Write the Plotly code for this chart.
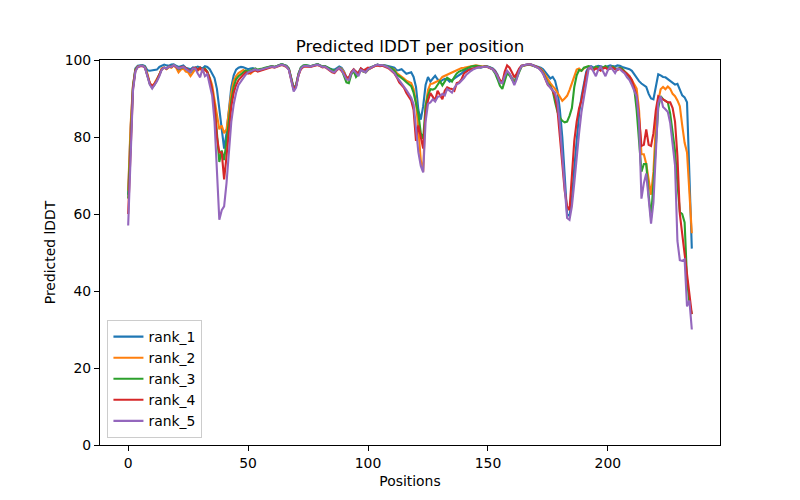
import plotly.graph_objects as go

positions = list(range(236))

rank_1 = [
    65, 82, 93, 97.8, 98.5, 98.7, 98.7, 98.4, 97.3, 97.2,
    97.3, 97.3, 97.5, 98.2, 98.5, 98.8, 98.6, 98.5, 98.8, 98.9,
    98.5, 98.2, 98.4, 98.6, 98.0, 97.8, 97.6, 98.1, 98.0, 98.3,
    98.0, 97.8, 98.4, 98.2, 97.6, 96.5, 95.3, 92.5, 87.5, 82,
    77, 81, 88, 93, 96, 97.5, 98, 98.2, 98.1, 97.8,
    97.6, 97.8, 97.9, 97.4, 97.2, 97.5, 97.7, 97.9, 98.1, 98.3,
    98.4, 98.2, 98.5, 98.7, 98.9, 98.7, 98.5, 97.8, 95.5, 92.8,
    93.5, 96.5, 98.0, 98.5, 98.6, 98.5, 98.4, 98.6, 98.7, 98.9,
    98.6, 98.3, 98.4, 98.0, 97.8, 97.6, 97.5, 97.9, 98.3, 98.0,
    97.0, 95.5, 95.2, 96.8, 97.5, 96.3, 96.8, 97.8, 97.3, 97.0,
    97.6, 98.1, 98.3, 98.6, 98.8, 98.6, 98.7, 98.6, 98.5, 98.3,
    98.2, 98.0, 97.3, 97.4, 97.6, 97.0, 96.4, 96.6, 96.8, 95.6,
    93, 87, 84.5, 88, 93.5, 95.6, 94.4, 95.2, 95.9, 95.0,
    94.3, 94.8, 95.1, 95.0, 94.4, 94.8, 95.2, 95.6, 95.9, 96.5,
    97.1, 97.3, 97.6, 97.8, 97.8, 98.0, 98.1, 98.0, 98.3, 98.4,
    98.3, 98.1, 97.8, 97.2, 96.2, 94.5, 94.0, 95.5, 96.8, 96.3,
    95.5, 94.5, 95.8, 97.5, 98.5, 98.7, 98.8, 98.9, 98.8, 98.6,
    98.5, 98.3, 98.0, 97.6, 96.8, 95.8, 95.2, 95.6, 94.6, 92,
    87, 80, 70, 60, 59.5, 64, 72, 80, 86, 90.5,
    94, 97, 98.2, 98.4, 98.0, 98.3, 98.5, 98.4, 98.1, 98.2,
    98.5, 98.6, 98.4, 98.3, 98.6, 98.5, 98.2, 98.0, 97.9, 97.6,
    97.2, 96.2, 95.2, 94.5, 93.9, 93.5, 93.0, 91.2, 90.0, 89.8,
    93.5, 96.3, 96.0, 95.6, 95.5, 95.0, 94.6, 94.0, 93.6, 93.8,
    92.5, 90.8, 90.3, 89.0, 70, 51,
]

rank_2 = [
    66, 83, 93.5, 97.5, 98.3, 98.5, 98.5, 98.2, 96.5, 94.0,
    93.2, 94.0, 95.0, 96.2, 97.8, 98.0, 97.6, 98.2, 98.0, 98.6,
    98.0, 96.8, 97.5, 97.8, 97.0, 96.8, 95.8, 96.8, 97.6, 97.2,
    97.8, 97.0, 97.5, 96.8, 95.5, 93.5, 90, 86, 82, 83,
    81, 82, 87, 91.5, 94.5, 95.8, 96.6, 97.0, 97.4, 97.0,
    96.6, 96.4, 97.0, 97.4, 97.2, 97.4, 97.6, 97.8, 98.0, 98.2,
    98.3, 98.2, 98.4, 98.6, 98.8, 98.6, 98.4, 97.6, 95.0, 92.3,
    93.3, 96.2, 97.8, 98.4, 98.5, 98.4, 98.3, 98.5, 98.6, 98.8,
    98.5, 98.2, 98.3, 97.9, 97.5, 97.3, 97.0, 97.6, 98.0, 97.7,
    96.8, 95.2, 94.8, 96.5, 97.4, 96.0, 96.5, 97.6, 97.0, 96.8,
    97.4, 98.0, 98.2, 98.5, 98.7, 98.5, 98.6, 98.5, 98.3, 98.1,
    97.9, 97.5, 96.6, 96.2, 95.8, 95.2, 94.6, 94.3, 94.0, 92.5,
    89, 82, 74, 71, 88, 92.2, 93.8, 93.9, 94.2, 94.4,
    94.8, 95.6, 95.9, 96.2, 96.6, 96.9, 97.2, 97.5, 97.7, 97.9,
    98.0, 98.2, 98.3, 98.4, 98.5, 98.6, 98.5, 98.4, 98.3, 98.4,
    98.2, 98.0, 97.6, 96.8, 95.8, 94.2, 94.0, 95.8, 97.0, 96.2,
    95.2, 94.2, 95.5, 97.2, 98.3, 98.6, 98.7, 98.8, 98.7, 98.5,
    98.3, 98.1, 97.7, 97.0, 96.0, 94.8, 94.0, 93.2, 92.5, 91.5,
    90.5, 89.4, 90.0, 90.7, 92.2, 93.8, 95.6, 97.5, 97.8, 97.2,
    97.8, 98.2, 98.3, 98.0, 97.6, 98.2, 98.0, 97.4, 98.0, 98.3,
    97.8, 98.0, 98.2, 97.8, 97.5, 97.9, 97.6, 97.0, 96.5, 95.8,
    94.8, 93.8, 92.6, 87, 75.5, 75.5, 73, 69, 65, 71,
    83, 89.4, 92.4, 93.0, 92.4, 93.1, 92.5, 91.2, 90.6, 89.5,
    88, 83, 78.5, 76, 65.5, 55,
]

rank_3 = [
    64, 81, 93, 97.4, 98.3, 98.5, 98.5, 98.2, 96.3, 93.8,
    92.8, 93.6, 94.8, 96.0, 97.6, 98.0, 97.8, 98.3, 98.2, 98.7,
    98.3, 97.6, 98.0, 98.2, 97.8, 97.4, 96.8, 97.6, 98.0, 97.5,
    98.0, 97.4, 97.8, 97.0, 95.0, 92, 88, 81, 73.5, 76.5,
    74, 79, 85, 89.5, 93, 95, 95.8, 96.3, 97.0, 97.3,
    97.0, 97.2, 97.6, 97.8, 97.5, 97.6, 97.8, 98.0, 98.1, 98.3,
    98.4, 98.2, 98.5, 98.7, 98.9, 98.7, 98.4, 97.7, 95.2, 92.5,
    93.3, 96.3, 98.0, 98.6, 98.7, 98.5, 98.4, 98.6, 98.7, 98.9,
    98.6, 98.3, 98.4, 98.0, 97.7, 97.4, 97.2, 97.7, 98.0, 97.5,
    96.0, 94.2, 94.0, 96.2, 97.2, 95.6, 96.3, 97.5, 97.0, 96.8,
    97.5, 98.0, 98.3, 98.6, 98.8, 98.6, 98.7, 98.5, 98.3, 98.0,
    97.8, 97.2, 96.2, 95.8, 95.4, 94.8, 94.2, 93.8, 93.2, 91.5,
    89, 86, 81, 79.5, 88, 90.8, 92.4, 92.3, 92.6, 93.5,
    94.5, 93.4, 94.5, 95.4, 95.0, 94.4, 95.6, 96.5, 97.0, 97.3,
    97.6, 97.9, 98.2, 98.3, 98.4, 98.5, 98.4, 98.3, 98.2, 98.4,
    98.2, 98.0, 97.5, 96.5, 95.0, 93.3, 92.5, 94.5, 96.6, 96.0,
    95.0, 94.0, 95.4, 97.0, 98.3, 98.6, 98.7, 98.8, 98.7, 98.5,
    98.3, 98.0, 97.5, 96.6, 95.3, 94.0, 93.3, 92.0, 89.0, 86.5,
    85.0, 84.2, 83.8, 84.0, 85.5, 87.5, 93.0, 96.0, 97.4, 97.2,
    98.0, 98.3, 98.4, 98.0, 97.8, 98.3, 98.1, 97.6, 98.1, 98.4,
    97.9, 98.1, 98.3, 97.9, 97.6, 98.0, 97.7, 97.0, 96.4, 95.4,
    94.0, 92.6, 87, 79, 71, 73, 73, 65, 59, 68,
    78, 87.5, 90.6, 89.8, 89.4, 89.0, 86, 81, 76.4, 68,
    60.5, 60, 57.8, 43, 37, 34,
]

rank_4 = [
    60, 79, 92.5, 97.2, 98.2, 98.4, 98.4, 98.0, 96.0, 94.0,
    93.2, 93.8, 94.8, 96.0, 97.6, 98.0, 97.8, 98.3, 98.2, 98.6,
    98.3, 97.8, 98.1, 98.3, 97.9, 97.5, 97.0, 97.8, 98.0, 97.4,
    98.0, 97.3, 97.6, 96.8, 95.0, 92.3, 88, 80, 76, 76,
    69, 75, 82, 88, 91.5, 93.5, 94.8, 95.6, 96.2, 96.8,
    96.5, 96.8, 97.2, 97.4, 97.0, 97.2, 97.4, 97.6, 97.9, 98.0,
    98.2, 98.0, 98.3, 98.5, 98.7, 98.5, 98.2, 97.5, 95.0, 92.3,
    93.2, 96.0, 97.6, 98.2, 98.3, 98.2, 98.2, 98.4, 98.5, 98.7,
    98.4, 98.1, 98.2, 97.7, 97.2, 96.8, 96.6, 97.4, 97.8, 97.2,
    96.5, 95.5, 95.4, 96.8, 97.6, 97.0, 96.4, 97.8, 97.3, 97.6,
    98.0, 97.8, 98.2, 98.5, 98.6, 98.4, 98.5, 98.3, 98.0, 97.6,
    97.0, 96.5, 95.5, 94.2, 93.5, 92.8, 91.4, 90.6, 89.5, 87,
    79, 83, 80, 77, 86, 89.5, 91.4, 90.4, 89.5, 92.0,
    90.8, 89.8, 92.0, 92.9, 92.6, 92.5, 92.0, 94.0, 94.2, 95.0,
    96.5, 97.0, 97.4, 97.6, 97.8, 98.0, 98.2, 98.1, 98.2, 98.3,
    98.2, 98.0, 97.6, 97.0, 96.0, 94.8, 94.2, 97.0, 98.6, 98.0,
    96.8, 95.5, 96.5, 97.8, 98.5, 98.7, 98.8, 98.9, 98.8, 98.6,
    98.3, 98.0, 97.4, 96.5, 95.0, 93.5, 93.0, 92.0, 90.5, 87,
    80, 73, 66, 62, 61, 70, 79, 84, 87.5, 89.5,
    93, 96.5, 97.8, 97.8, 97.3, 97.8, 97.6, 97.2, 97.8, 98.0,
    97.5, 97.8, 98.0, 97.6, 97.4, 97.8, 97.4, 96.8, 96.4, 95.8,
    94.8, 92.8, 90.5, 85, 77.7, 78, 82, 78, 77.7, 81,
    87, 90.6, 90.2, 89.8, 89.6, 89.0, 89.0, 87.5, 84, 75,
    60, 55, 50, 44, 39, 34,
]

rank_5 = [
    57, 77, 92, 97.0, 98.2, 98.5, 98.5, 98.0, 96.0, 93.6,
    92.6, 93.4, 94.5, 95.8, 97.5, 98.0, 97.8, 98.3, 98.2, 98.7,
    98.3, 97.8, 98.0, 98.2, 97.7, 97.2, 96.8, 97.8, 97.8, 96.5,
    95.5, 97.8, 95.8, 96.3, 93.5, 90.8, 84, 70, 58.5, 61,
    62, 68, 76, 84, 88.5, 91.5, 93.5, 94.5, 95.2, 96.2,
    96.8, 97.0, 97.4, 97.6, 97.3, 97.5, 97.7, 97.9, 98.0, 98.2,
    98.3, 98.1, 98.4, 98.6, 98.8, 98.6, 98.3, 97.4, 94.6, 91.8,
    92.8, 96.0, 97.8, 98.4, 98.5, 98.4, 98.3, 98.5, 98.6, 98.8,
    98.5, 98.2, 98.3, 97.8, 97.4, 97.0, 96.8, 97.5, 97.9, 97.4,
    96.2, 95.0, 94.8, 96.5, 97.4, 96.6, 95.8, 97.4, 97.0, 96.8,
    97.6, 98.0, 98.3, 98.6, 98.8, 98.6, 98.7, 98.5, 98.2, 97.8,
    97.3, 96.6, 95.6, 94.8, 93.8, 93.0, 92.2, 91.2, 90.2, 88.5,
    83, 76, 72.5, 70.8, 84, 88.6, 89.0, 89.8, 89.2, 90.4,
    90.6, 91.2, 90.8, 92.5, 92.0, 91.5, 92.8, 93.7, 94.0, 94.6,
    95.3, 96.2, 96.8, 97.2, 97.6, 97.9, 98.1, 98.1, 98.2, 98.3,
    98.2, 98.0, 97.6, 96.8, 95.8, 94.2, 94.0, 95.8, 97.2, 96.5,
    95.2, 93.5, 95.0, 97.2, 98.4, 98.7, 98.8, 98.9, 98.8, 98.5,
    98.2, 97.9, 97.3, 96.4, 95.0, 93.6, 92.8, 92.0, 91.5, 89,
    83, 75, 67, 59, 58.5, 62, 68, 75.5, 81, 86.5,
    90, 94, 97.8, 98.2, 97.0, 95.8, 97.5, 98.2, 97.0, 95.8,
    97.4, 98.2, 97.5, 96.6, 97.8, 97.6, 97.0, 96.5, 95.5, 94.8,
    93.5, 92.0, 90.5, 84, 64, 68, 70.5, 64, 57.5, 63,
    75, 88.7, 90.6, 87.8, 87.2, 86.5, 83.6, 78, 72.6, 53,
    48, 47.8, 48.2, 36, 37.5, 30,
]

series_names = ["rank_1", "rank_2", "rank_3", "rank_4", "rank_5"]
series_values = [rank_1, rank_2, rank_3, rank_4, rank_5]
colors = ["#1f77b4", "#ff7f0e", "#2ca02c", "#d62728", "#9467bd"]

x_ticks = [0, 50, 100, 150, 200]
y_ticks = [0, 20, 40, 60, 80, 100]

FONT = "DejaVu Sans"

fig = go.Figure()
for name, vals, col in zip(series_names, series_values, colors):
    fig.add_trace(go.Scatter(
        x=positions, y=vals, mode="lines", name=name,
        line=dict(color=col, width=2.1),
    ))

axis_common = dict(
    showline=True, linecolor="black", linewidth=1.1, mirror=True,
    ticks="outside", ticklen=5, tickwidth=1.1, tickcolor="black",
    showgrid=False, zeroline=False,
    tickfont=dict(family=FONT, size=13.9, color="black"),
)

fig.update_layout(
    width=800, height=500,
    margin=dict(l=100, r=80, t=60, b=55),
    paper_bgcolor="white", plot_bgcolor="white",
    font=dict(family=FONT, size=13.9, color="black"),
    title=dict(text="Predicted lDDT per position", x=0.5125, xanchor="center",
               yref="container", y=0.908, yanchor="middle",
               font=dict(family=FONT, size=16.7, color="black")),
    xaxis=dict(range=[-11.75, 246.75], tickvals=x_ticks,
               title=dict(text="Positions", standoff=6,
                          font=dict(family=FONT, size=13.9)),
               **axis_common),
    yaxis=dict(range=[0, 100], tickvals=y_ticks,
               title=dict(text="Predicted lDDT", standoff=5,
                          font=dict(family=FONT, size=13.9)),
               **axis_common),
    showlegend=True,
    legend=dict(x=0.012, y=0.018, xanchor="left", yanchor="bottom",
                bgcolor="rgba(255,255,255,0.8)", bordercolor="#cccccc",
                borderwidth=1, itemwidth=30, tracegroupgap=0,
                font=dict(family=FONT, size=13.9, color="black")),
)

fig.write_html("out.html", config={"displayModeBar": False},
               post_script="document.body.style.margin='0';")
